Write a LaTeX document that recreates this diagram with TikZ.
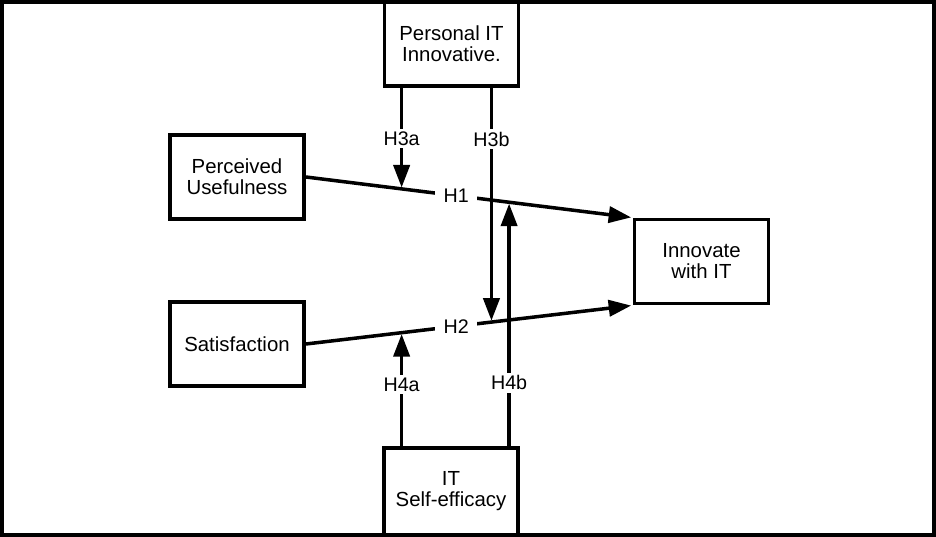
\documentclass[tikz,border=0pt]{standalone}
\usepackage{fontspec}
\setmainfont{Liberation Sans}
\usetikzlibrary{arrows.meta,calc}

\begin{document}
\begin{tikzpicture}[x=0.025cm,y=-0.025cm,
    box/.style={draw,line width=2.7pt,align=center,inner sep=0pt,
      minimum width=3.35cm,minimum height=2.1cm,
      font=\fontsize{14.5}{15}\selectfont},
    conn/.style={line width=2.5pt,shorten >=1pt,
      -{Triangle[length=16pt,width=11.5pt]}},
    hyp/.style={fill=white,inner xsep=6pt,inner ysep=2pt,
      font=\fontsize{14}{14}\selectfont}]
\useasboundingbox (0,0) rectangle (936,537);

% constructs
\node[box] (pit)  at (451.5,44)   {Personal IT\\Innovative.};
\node[box] (pu)   at (237,177)    {Perceived\\Usefulness};
\node[box] (sat)  at (237,344)    {Satisfaction};
\node[box] (iwit) at (701.5,261.5) {Innovate\\with IT};
\node[box,minimum height=2.18cm] (ise) at (451,491.5) {IT\\Self-efficacy};

% main effects
\draw[conn] (pu.east)  -- node[hyp,pos=0.46] {H1} (iwit.north west);
\draw[conn] (sat.east) -- node[hyp,pos=0.46] {H2} (iwit.south west);

% moderation targets
\coordinate (t3a) at ($(pu.east)!0.293!(iwit.north west)$);
\coordinate (t4b) at ($(pu.east)!0.622!(iwit.north west)$);
\coordinate (t4a) at ($(sat.east)!0.293!(iwit.south west)$);
\coordinate (t3b) at ($(sat.east)!0.568!(iwit.south west)$);

\draw[conn] (pit.south -| t3a) -- node[hyp,pos=0.5]  {H3a} (t3a);
\draw[conn] (pit.south -| t3b) -- node[hyp,pos=0.22] {H3b} (t3b);
\draw[conn] (ise.north -| t4a) -- node[hyp,pos=0.54] {H4a} (t4a);
\draw[conn] (ise.north -| t4b) -- node[hyp,pos=0.26] {H4b} (t4b);

\draw[line width=2.4pt] (2,2) rectangle (934,535);
\end{tikzpicture}
\end{document}
